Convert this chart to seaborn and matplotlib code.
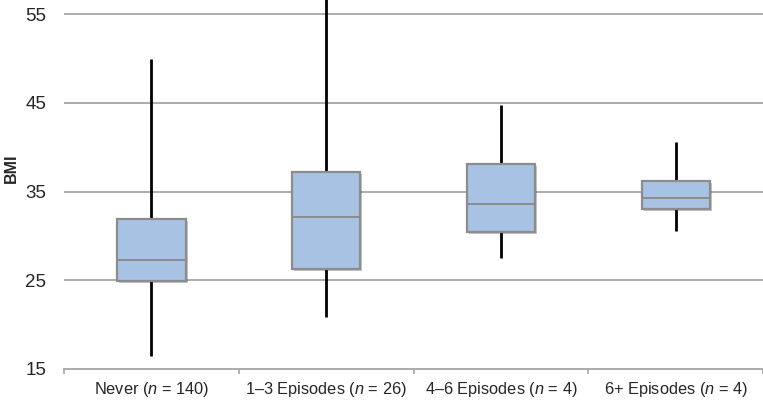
import matplotlib
matplotlib.use("Agg")
import matplotlib.pyplot as plt
import matplotlib.patheffects as pe
from matplotlib.ticker import FixedLocator
import numpy as np
import pandas as pd
import seaborn as sns

# five-number summaries (whisker low, Q1, median, Q3, whisker high)
groups = ["Never", "1–3 Episodes", "4–6 Episodes", "6+ Episodes"]
group_n = [140, 26, 4, 4]
whisker_low = [16.4, 20.8, 27.5, 30.5]
q1 = [24.9, 26.3, 30.4, 33.0]
median = [27.3, 32.1, 33.6, 34.3]
q3 = [31.9, 37.2, 38.1, 36.2]
whisker_high = [49.9, 57.5, 44.8, 40.6]

yticks = [15, 25, 35, 45, 55]

sns.set_style("white")
plt.rcParams["font.family"] = ["Liberation Sans", "DejaVu Sans"]
plt.rcParams["mathtext.fontset"] = "custom"
plt.rcParams["mathtext.it"] = "Liberation Sans:italic"
plt.rcParams["mathtext.rm"] = "Liberation Sans"

# with 5 points per group the quartiles land exactly on the summary values
rows = []
for i, g in enumerate(groups):
    for v in (whisker_low[i], q1[i], median[i], q3[i], whisker_high[i]):
        rows.append({"group": g, "BMI": v})
df = pd.DataFrame(rows)

fig = plt.figure(figsize=(7.63, 4.04), dpi=100)
ax = fig.add_axes([0.084, 0.087, 0.916, 0.913])

grid_col = "#a6a6a6"
for y in yticks[1:]:
    ax.axhline(y, color=grid_col, lw=1.3, zorder=0)

sns.boxplot(
    data=df, x="group", y="BMI", ax=ax,
    whis=(0, 100), width=0.39, showcaps=False, showfliers=False,
    boxprops=dict(facecolor="#a7c2e2", edgecolor="#8c8c8c", linewidth=1.6, zorder=3),
    medianprops=dict(color="#8c8c8c", linewidth=1.4, zorder=4),
    whiskerprops=dict(color="black", linewidth=2.0, zorder=2),
)

for patch in ax.patches:
    patch.set_path_effects([
        pe.SimplePatchShadow(offset=(1.5, -1.5), shadow_rgbFace="#000000", alpha=0.22),
        pe.Normal(),
    ])

ax.set_ylim(15, 56.6)
ax.set_xlim(-0.5, 3.5)
ax.set_yticks(yticks)
ax.set_yticklabels([str(t) for t in yticks], fontsize=13.5)
ax.set_xticks(range(len(groups)))
ax.set_xticklabels([f"{g} ($\\mathit{{n}}$ = {n})" for g, n in zip(groups, group_n)], fontsize=11.8)
ax.xaxis.set_minor_locator(FixedLocator(np.arange(-0.5, 4, 1.0)))
ax.tick_params(axis="x", which="major", bottom=False, length=0, pad=8)
ax.tick_params(axis="x", which="minor", bottom=True, length=3.5, width=1.2, color=grid_col, direction="out")
ax.tick_params(axis="y", left=False, length=0, pad=13)

ax.set_xlabel("")
ax.set_ylabel("BMI", fontsize=11.5, fontweight="bold")
ax.yaxis.set_label_coords(-0.064, 0.545)

for s in ["top", "right", "left"]:
    ax.spines[s].set_visible(False)
ax.spines["bottom"].set_color(grid_col)
ax.spines["bottom"].set_linewidth(1.3)

fig.savefig("out.png", dpi=100)
